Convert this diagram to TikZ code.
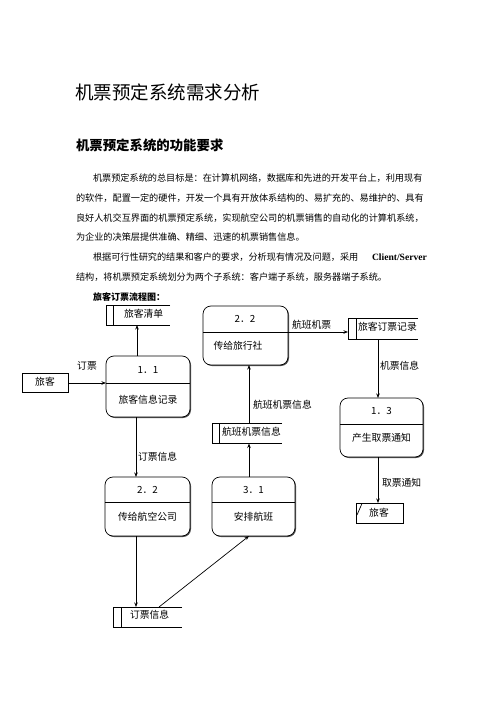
\documentclass[tikz,border=0pt]{standalone}
\usepackage{fontspec}
\setmainfont{Liberation Serif}
\newfontfamily\cjk{Noto Sans CJK SC}
\usetikzlibrary{arrows.meta,shadows}
\begin{document}
\begin{tikzpicture}[x=1pt,y=-1pt,
  every node/.style={inner sep=0pt, outer sep=0pt},
  body/.style={anchor=west, font=\cjk\fontsize{9.15}{11}\selectfont},
  dtext/.style={font=\cjk\fontsize{9.8}{12}\selectfont},
  lbl/.style={dtext, anchor=west},
  proc/.style={draw, line width=0.7pt, rounded corners=8pt, fill=white,
    drop shadow={shadow xshift=1pt, shadow yshift=-1pt, fill=black!70, opacity=1}},
  entity/.style={draw, line width=0.7pt, fill=white,
    drop shadow={shadow xshift=1pt, shadow yshift=-1pt, fill=black!70, opacity=1}},
  storebox/.style={},
  stline/.style={line width=0.7pt},
  arr/.style={line width=0.7pt, -{Stealth[length=4.5pt,width=3.5pt]}}
]
\useasboundingbox (0,0) rectangle (500,708);

% ---------- heading text ----------
\node[anchor=west, font=\cjk\fontsize{18.5}{22}\selectfont] (title) at (75,92) {机票预定系统需求分析};
\node[anchor=west, font=\cjk\bfseries\fontsize{13.4}{16}\selectfont] (head) at (76,145) {机票预定系统的功能要求};

\node[body] (l1) at (93,178) {机票预定系统的总目标是：在计算机网络，数据库和先进的开发平台上，利用现有};
\node[body] (l2) at (76,198) {的软件，配置一定的硬件，开发一个具有开放体系结构的、易扩充的、易维护的、具有};
\node[body] (l3) at (76,218) {良好人机交互界面的机票预定系统，实现航空公司的机票销售的自动化的计算机系统，};
\node[body] (l4) at (76,237) {为企业的决策层提供准确、精细、迅速的机票销售信息。};
\node[body] (l5) at (93,257) {根据可行性研究的结果和客户的要求，分析现有情况及问题，采用};
\node[anchor=west, font=\bfseries\fontsize{9.6}{11}\selectfont] (l5b) at (372,257) {Client/Server};
\node[body] (l6) at (76,277) {结构，将机票预定系统划分为两个子系统：客户端子系统，服务器端子系统。};

\node[anchor=west, font=\cjk\bfseries\fontsize{9}{11}\selectfont] (cap) at (93,297) {旅客订票流程图：};

% ---------- processes ----------
% 1.1
\node[proc, minimum width=84pt, minimum height=61pt] (p11) at (148,386.5) {};
\draw[line width=0.7pt] (106,383) -- (190,383);
\node[dtext] (p11a) at (148,370) {1．1};
\node[dtext] (p11b) at (148,400) {旅客信息记录};
% 2.2 top
\node[proc, minimum width=85pt, minimum height=59pt] (p22a) at (245.5,335.5) {};
\draw[line width=0.7pt] (203,332) -- (288,332);
\node[dtext] (p22aa) at (245,319) {2．2};
\node[dtext] (p22ab) at (238,346) {传给旅行社};
% 1.3
\node[proc, minimum width=83pt, minimum height=59pt] (p13) at (381.5,427.5) {};
\draw[line width=0.7pt] (340,424) -- (423,424);
\node[dtext] (p13a) at (381.5,411) {1．3};
\node[dtext] (p13b) at (381.5,438) {产生取票通知};
% 3.1
\node[proc, minimum width=83pt, minimum height=59pt] (p31) at (253.5,506.5) {};
\draw[line width=0.7pt] (212,502) -- (295,502);
\node[dtext] (p31a) at (253.5,490) {3．1};
\node[dtext] (p31b) at (253.5,517) {安排航班};
% 2.2 bottom
\node[proc, minimum width=85pt, minimum height=59pt] (p22b) at (147.5,506.5) {};
\draw[line width=0.7pt] (105,502) -- (190,502);
\node[dtext] (p22ba) at (147.5,490) {2．2};
\node[dtext] (p22bb) at (147.5,517) {传给航空公司};

% ---------- stores ----------
\node[storebox, minimum width=64pt, minimum height=20pt] (s1) at (138,315) {};
\draw[stline] (s1.north east) -- (s1.north west) -- (s1.south west) -- (s1.south east);
\draw[stline] ([xshift=7pt]s1.north west) -- ([xshift=7pt]s1.south west);
\node[dtext, anchor=west] (s1t) at (124,314) {旅客清单};

\node[storebox, minimum width=70pt, minimum height=21pt] (s2) at (383,328.5) {};
\draw[stline] (s2.north east) -- (s2.north west) -- (s2.south west) -- (s2.south east);
\draw[stline] ([xshift=8pt]s2.north west) -- ([xshift=8pt]s2.south west);
\node[dtext, anchor=west] (s2t) at (358,327) {旅客订票记录};

\node[storebox, minimum width=70pt, minimum height=20pt] (s3) at (247,433.5) {};
\draw[stline] (s3.north east) -- (s3.north west) -- (s3.south west) -- (s3.south east);
\draw[stline] ([xshift=7pt]s3.north west) -- ([xshift=7pt]s3.south west);
\node[dtext, anchor=west] (s3t) at (222,432) {航班机票信息};

\node[storebox, minimum width=69pt, minimum height=20pt] (s4) at (147.5,617) {};
\draw[stline] (s4.north east) -- (s4.north west) -- (s4.south west) -- (s4.south east);
\draw[stline] ([xshift=8pt]s4.north west) -- ([xshift=8pt]s4.south west);
\node[dtext, anchor=west] (s4t) at (130,615) {订票信息};

% ---------- entities ----------
\node[entity, minimum width=46pt, minimum height=19pt] (e1) at (45,382.5) {};
\node[dtext] (e1t) at (45,382) {旅客};
\node[entity, minimum width=47pt, minimum height=20pt] (e2) at (379.5,513) {};
\draw[line width=0.7pt] (357,515) -- (362,503.5);
\node[dtext] (e2t) at (379,513) {旅客};

% ---------- guides ----------
\coordinate (gA) at (137,0);
\coordinate (gB) at (136,0);
\coordinate (gC) at (159,0);
\coordinate (gD) at (249,0);
\coordinate (gE) at (378,0);
\coordinate (gY) at (0,383);
\coordinate (gZ) at (0,332);

% ---------- connectors ----------
\draw[arr] (e1.east |- gY) -- (p11.west |- gY);
\node[dtext] (lbl1) at (87,366) {订票};
\draw[arr] (p11.north -| gA) -- (s1.south -| gA);
\draw[arr] (p11.south -| gB) -- (p22b.north -| gB);
\node[lbl] (lbl2) at (138,457) {订票信息};
\draw[arr] (p22b.south -| gB) -- (s4.north -| gB);
\draw[arr] (s4.north -| gC) -- (p31.south -| gD);
\draw[arr] (p31.north -| gD) -- (s3.south -| gD);
\draw[arr] (s3.north -| gD) -- (p22a.south -| gD);
\node[lbl] (lbl3) at (253,405) {航班机票信息};
\draw[arr] (p22a.east |- gZ) -- (s2.west |- gZ);
\node[lbl] (lbl4) at (292,325) {航班机票};
\draw[arr] (s2.south -| gE) -- (p13.north -| gE);
\node[lbl] (lbl5) at (380,366) {机票信息};
\draw[arr] (p13.south -| gE) -- (e2.north -| gE);
\node[lbl] (lbl6) at (382,483) {取票通知};
\end{tikzpicture}
\end{document}
